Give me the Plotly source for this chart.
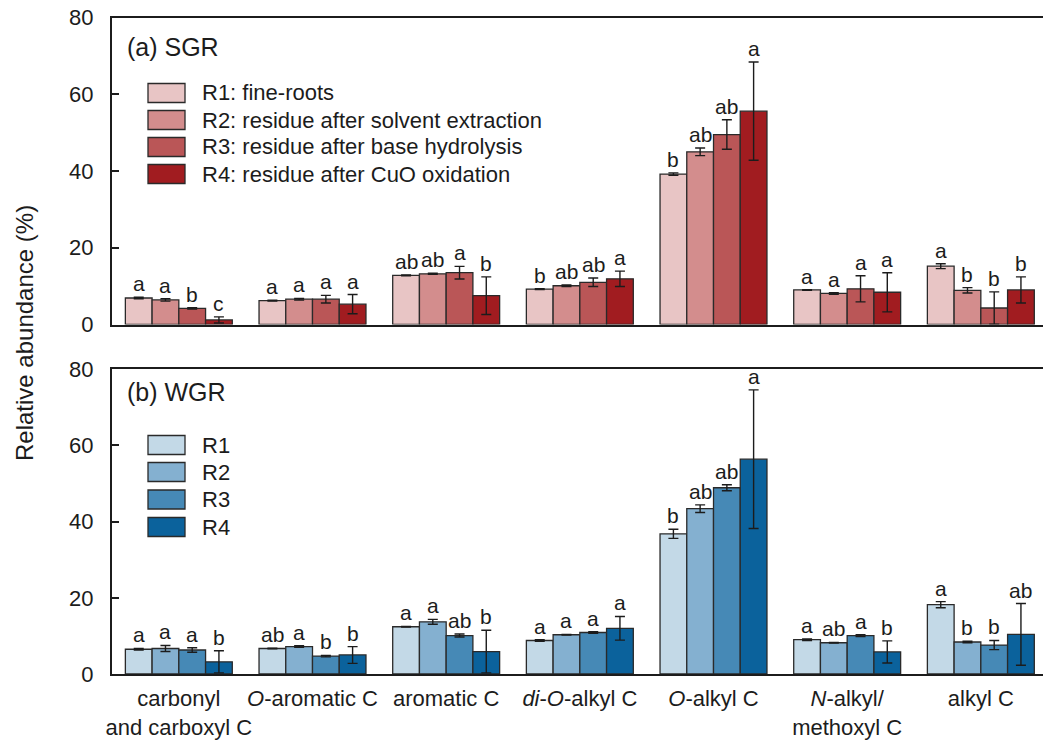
import plotly.graph_objects as go

# Carbon functional groups (x categories)
categories = ["carbonyl and carboxyl C", "O-aromatic C", "aromatic C", "di-O-alkyl C",
              "O-alkyl C", "N-alkyl/methoxyl C", "alkyl C"]
tick_text = ["carbonyl<br>and carboxyl C", "<i>O</i>-aromatic C", "aromatic C",
             "<i>di</i>-<i>O</i>-alkyl C", "<i>O</i>-alkyl C", "<i>N</i>-alkyl/<br>methoxyl C", "alkyl C"]
y_ticks = [0, 20, 40, 60, 80]

# (a) SGR — relative abundance (%), standard errors and significance letters
sgr_names = ["R1: fine-roots", "R2: residue after solvent extraction",
             "R3: residue after base hydrolysis", "R4: residue after CuO oxidation"]
sgr_r1 = [6.9, 6.2, 12.8, 9.2, 39.2, 9.0, 15.2]
sgr_r2 = [6.4, 6.6, 13.2, 10.1, 45.0, 8.1, 8.9]
sgr_r3 = [4.2, 6.6, 13.5, 11.0, 49.5, 9.3, 4.3]
sgr_r4 = [1.2, 5.3, 7.5, 11.9, 55.6, 8.4, 9.0]
sgr_r1_se = [0.2, 0.1, 0.1, 0.1, 0.3, 0.1, 0.65]
sgr_r2_se = [0.3, 0.2, 0.15, 0.2, 1.0, 0.2, 0.7]
sgr_r3_se = [0.2, 1.0, 1.65, 1.1, 3.85, 3.4, 4.2]
sgr_r4_se = [0.8, 2.5, 4.9, 2.0, 12.8, 5.1, 3.4]
sgr_r1_sig = ["a", "a", "ab", "b", "b", "a", "a"]
sgr_r2_sig = ["a", "a", "ab", "ab", "ab", "a", "b"]
sgr_r3_sig = ["b", "a", "a", "ab", "ab", "a", "b"]
sgr_r4_sig = ["c", "a", "b", "a", "a", "a", "b"]

# (b) WGR
wgr_names = ["R1", "R2", "R3", "R4"]
wgr_r1 = [6.5, 6.7, 12.4, 8.8, 36.8, 9.0, 18.2]
wgr_r2 = [6.7, 7.2, 13.7, 10.3, 43.4, 8.2, 8.4]
wgr_r3 = [6.3, 4.7, 10.1, 10.9, 48.9, 10.1, 7.6]
wgr_r4 = [3.2, 5.0, 5.9, 12.0, 56.4, 5.8, 10.4]
wgr_r1_se = [0.2, 0.1, 0.1, 0.2, 1.2, 0.2, 0.8]
wgr_r2_se = [0.8, 0.2, 0.65, 0.1, 1.0, 0.1, 0.2]
wgr_r3_se = [0.6, 0.2, 0.4, 0.2, 0.8, 0.25, 1.2]
wgr_r4_se = [2.9, 2.2, 5.6, 3.1, 18.2, 2.9, 8.1]
wgr_r1_sig = ["a", "ab", "a", "a", "b", "a", "a"]
wgr_r2_sig = ["a", "a", "a", "a", "ab", "ab", "b"]
wgr_r3_sig = ["a", "b", "ab", "a", "ab", "a", "b"]
wgr_r4_sig = ["b", "b", "b", "a", "a", "b", "ab"]

red_colors = ["#E8C5C5", "#D38D8D", "#BA5657", "#A11C20"]
blue_colors = ["#C3D9E7", "#84B0D0", "#4689B6", "#0B629C"]

FONT = "Arial, 'Liberation Sans', sans-serif"
INK = "#1c1c1c"
W, H = 1043, 740
LEFT = 112
PLOT_W = W - LEFT


def fx(px):
    return (px - LEFT) / PLOT_W


def fy(py):
    return 1 - py / H


fig = go.Figure()
annotations = []
shapes = []

panels = [
    ("x", "y", sgr_names, [sgr_r1, sgr_r2, sgr_r3, sgr_r4],
     [sgr_r1_se, sgr_r2_se, sgr_r3_se, sgr_r4_se],
     [sgr_r1_sig, sgr_r2_sig, sgr_r3_sig, sgr_r4_sig], red_colors),
    ("x2", "y2", wgr_names, [wgr_r1, wgr_r2, wgr_r3, wgr_r4],
     [wgr_r1_se, wgr_r2_se, wgr_r3_se, wgr_r4_se],
     [wgr_r1_sig, wgr_r2_sig, wgr_r3_sig, wgr_r4_sig], blue_colors),
]

xpos = list(range(len(categories)))
for xa, ya, names, vals, ses, sigs, colors in panels:
    for k in range(4):
        fig.add_trace(go.Bar(
            x=xpos, y=vals[k], name=names[k], xaxis=xa, yaxis=ya,
            marker=dict(color=colors[k], line=dict(color="#2a2a2a", width=1.3)),
            error_y=dict(type="data", array=ses[k], color=INK, thickness=1.4, width=5),
            showlegend=False,
        ))
        for i in xpos:
            annotations.append(dict(
                x=i + (k - 1.5) * 0.2, y=vals[k][i] + ses[k][i], xref=xa, yref=ya,
                text=sigs[k][i], showarrow=False, yanchor="bottom", xanchor="center",
                font=dict(family=FONT, size=21, color=INK), yshift=0,
            ))

# Legend boxes and labels
legend_specs = [
    (sgr_names, red_colors, [93, 120, 147, 174]),
    (wgr_names, blue_colors, [445, 472, 499.5, 527]),
]
for names, colors, centers in legend_specs:
    for name, col, cy in zip(names, colors, centers):
        shapes.append(dict(type="rect", xref="paper", yref="paper",
                           x0=fx(148), x1=fx(185), y0=fy(cy + 9.5), y1=fy(cy - 9.5),
                           fillcolor=col, line=dict(color="#2a2a2a", width=1.3)))
        annotations.append(dict(x=fx(200), y=fy(cy), xref="paper", yref="paper",
                                text=name, showarrow=False, xanchor="left", yanchor="middle",
                                font=dict(family=FONT, size=22, color=INK)))

# Panel titles
annotations.append(dict(x=fx(125), y=fy(47), xref="paper", yref="paper", text="(a) SGR",
                        showarrow=False, xanchor="left", yanchor="middle",
                        font=dict(family=FONT, size=25, color=INK)))
annotations.append(dict(x=fx(125), y=fy(392), xref="paper", yref="paper", text="(b) WGR",
                        showarrow=False, xanchor="left", yanchor="middle",
                        font=dict(family=FONT, size=25, color=INK)))

# Shared y-axis title
annotations.append(dict(x=fx(25), y=fy(333), xref="paper", yref="paper",
                        text="Relative abundance (%)", showarrow=False, textangle=-90,
                        xanchor="center", yanchor="middle",
                        font=dict(family=FONT, size=24, color=INK)))

xaxis_common = dict(range=[-0.5, 6.465], tickvals=xpos, ticktext=tick_text,
                    showline=True, linecolor=INK, linewidth=2, mirror=True,
                    ticks="", showgrid=False, zeroline=False, tickangle=0,
                    automargin=False,
                    tickfont=dict(family=FONT, size=22, color=INK))
yaxis_common = dict(range=[0, 80], tickvals=y_ticks, showline=True, linecolor=INK,
                    linewidth=2, ticks="inside", ticklen=7, tickwidth=1.5, tickcolor=INK,
                    showgrid=False, zeroline=False, ticklabelstandoff=12,
                    automargin=False,
                    tickfont=dict(family=FONT, size=22, color=INK))

fig.update_layout(
    width=W, height=H, autosize=False,
    margin=dict(l=LEFT, r=0, t=0, b=0),
    paper_bgcolor="white", plot_bgcolor="white",
    barmode="group", bargap=0.2, bargroupgap=0,
    xaxis=dict(xaxis_common, domain=[0, 1], anchor="y", showticklabels=False),
    yaxis=dict(yaxis_common, domain=[fy(324.5), fy(17.5)], anchor="x"),
    xaxis2=dict(xaxis_common, domain=[0, 1], anchor="y2", showticklabels=True,
                ticklabelstandoff=4),
    yaxis2=dict(yaxis_common, domain=[fy(674), fy(369.3)], anchor="x2"),
    annotations=annotations, shapes=shapes,
    font=dict(family=FONT, color=INK),
)

fig.write_html("out.html")
